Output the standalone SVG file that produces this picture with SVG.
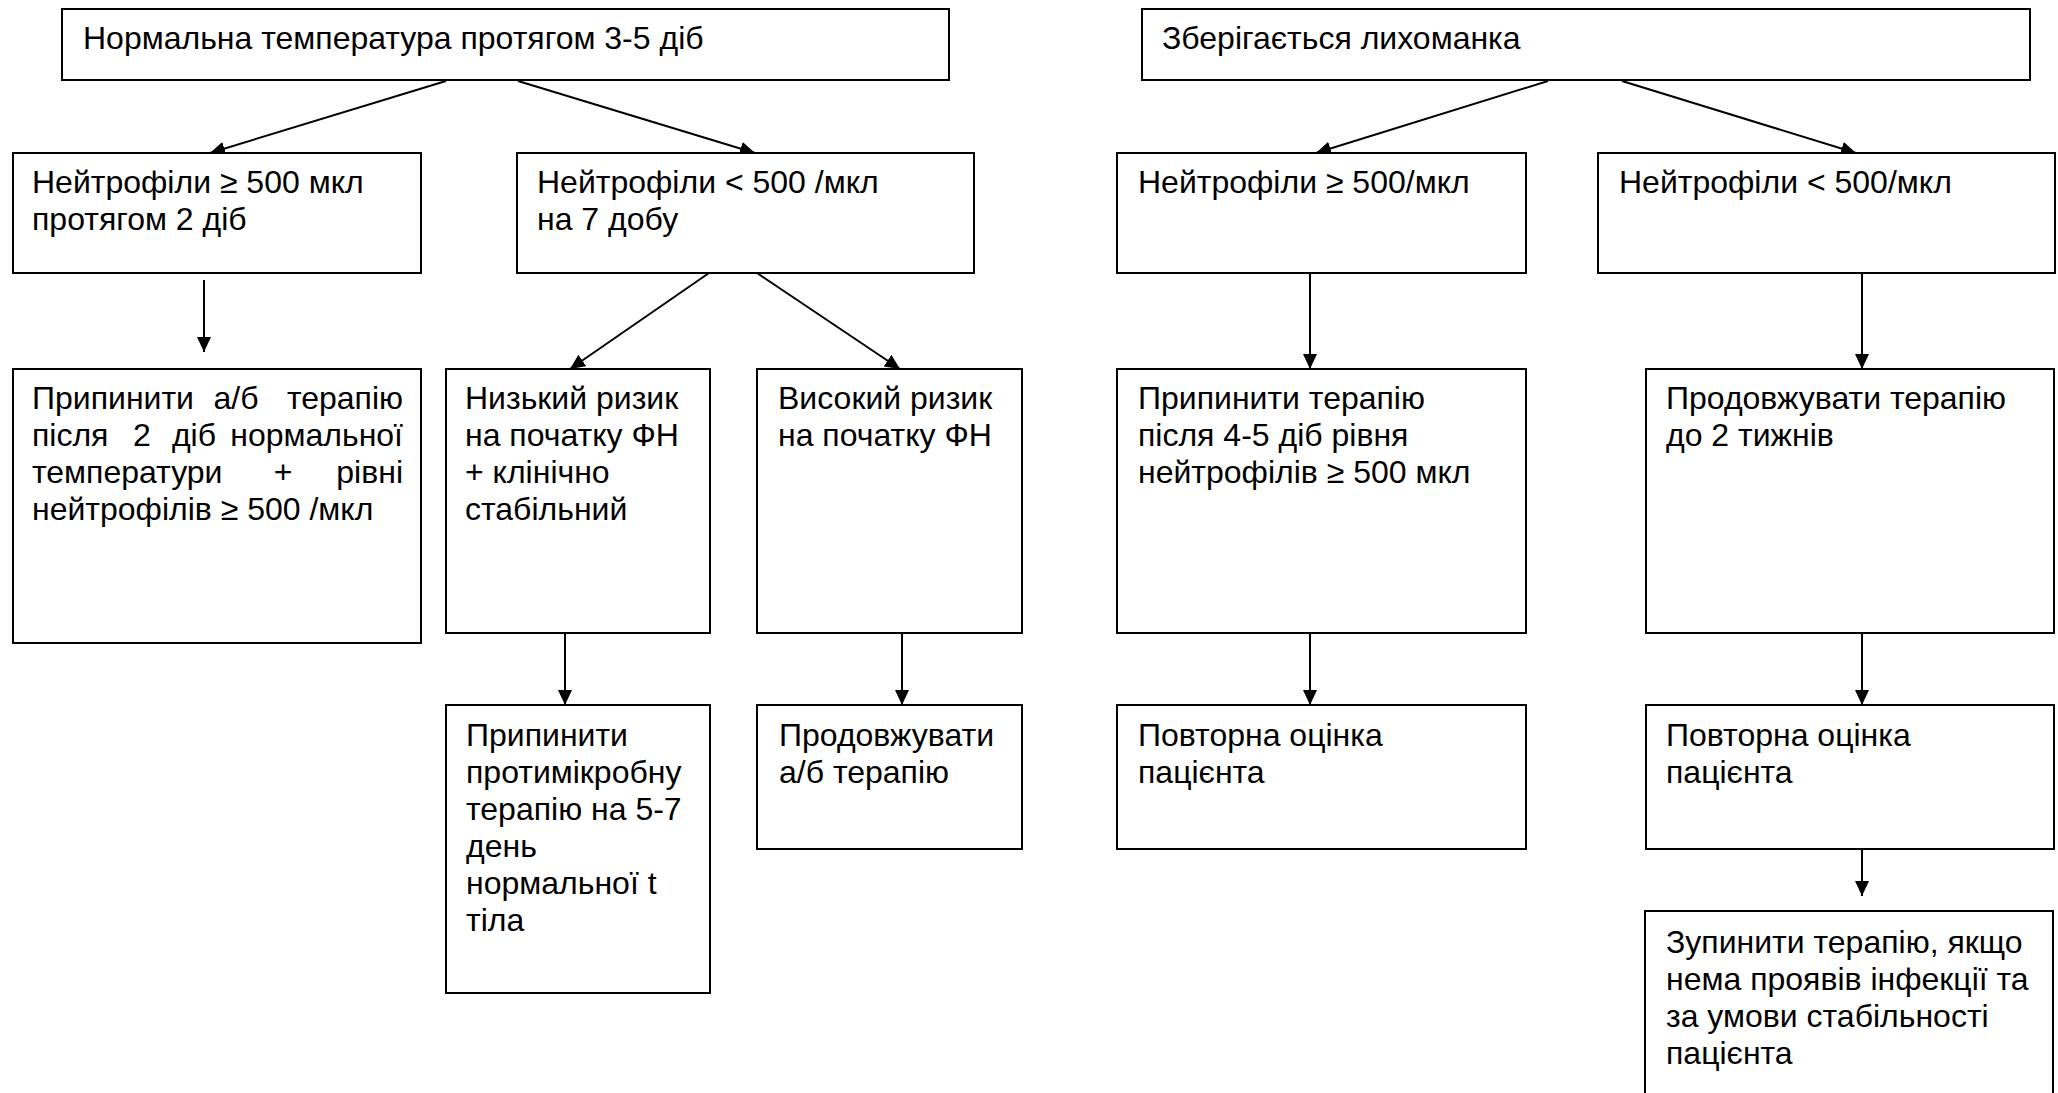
<svg xmlns="http://www.w3.org/2000/svg" width="2058" height="1093" viewBox="0 0 2058 1093">
<style>
.box{fill:#fff;stroke:#000;stroke-width:2}
.t{font-family:"Liberation Sans",Arial,sans-serif;font-size:32px;fill:#000}
.c{stroke:#000;stroke-width:2;fill:none;marker-end:url(#ah)}
</style>
<defs>
<marker id="ah" markerUnits="userSpaceOnUse" markerWidth="16" markerHeight="16" refX="15" refY="7" orient="auto">
<path d="M0,0 L15,7 L0,14 z" fill="#000"/>
</marker>
</defs>
<rect x="0" y="0" width="2058" height="1093" fill="#fff"/>
<g id="connectors">
<line class="c" x1="446" y1="81" x2="210" y2="153"/>
<line class="c" x1="518" y1="81" x2="755" y2="153"/>
<line class="c" x1="1548" y1="81" x2="1316" y2="153"/>
<line class="c" x1="1622" y1="81" x2="1856" y2="153"/>
<line class="c" x1="709" y1="273" x2="570" y2="369"/>
<line class="c" x1="757" y1="273" x2="900" y2="369"/>
<line class="c" x1="204" y1="280" x2="204" y2="352"/>
<line class="c" x1="565" y1="633" x2="565" y2="705"/>
<line class="c" x1="902" y1="633" x2="902" y2="705"/>
<line class="c" x1="1310" y1="273" x2="1310" y2="369"/>
<line class="c" x1="1862" y1="273" x2="1862" y2="369"/>
<line class="c" x1="1310" y1="633" x2="1310" y2="705"/>
<line class="c" x1="1862" y1="633" x2="1862" y2="705"/>
<line class="c" x1="1862" y1="849" x2="1862" y2="896"/>
</g>
<g id="n-t1"><rect class="box" x="62" y="9" width="887" height="71"/><text class="t" x="83" y="49">Нормальна температура протягом 3-5 діб</text></g>
<g id="n-t2"><rect class="box" x="1142" y="9" width="888" height="71"/><text class="t" x="1162" y="49">Зберігається лихоманка</text></g>
<g id="n-a"><rect class="box" x="13" y="153" width="408" height="120"/><text class="t" x="32" y="193">Нейтрофіли ≥ 500 мкл<tspan x="32" y="230">протягом 2 діб</tspan></text></g>
<g id="n-b"><rect class="box" x="517" y="153" width="457" height="120"/><text class="t" x="537" y="193">Нейтрофіли &lt; 500 /мкл<tspan x="537" y="230">на 7 добу</tspan></text></g>
<g id="n-c"><rect class="box" x="1117" y="153" width="409" height="120"/><text class="t" x="1138" y="193">Нейтрофіли ≥ 500/мкл</text></g>
<g id="n-d"><rect class="box" x="1598" y="153" width="457" height="120"/><text class="t" x="1619" y="193">Нейтрофіли &lt; 500/мкл</text></g>
<g id="n-e"><rect class="box" x="13" y="369" width="408" height="274"/>
<text class="t" x="32" y="409">Припинити</text><text class="t" x="236" y="409" text-anchor="middle">а/б</text><text class="t" x="403" y="409" text-anchor="end">терапію</text>
<text class="t" x="32" y="446">після</text><text class="t" x="142" y="446" text-anchor="middle">2</text><text class="t" x="194" y="446" text-anchor="middle">діб</text><text class="t" x="403" y="446" text-anchor="end">нормальної</text>
<text class="t" x="32" y="483">температури</text><text class="t" x="283" y="483" text-anchor="middle">+</text><text class="t" x="403" y="483" text-anchor="end">рівні</text>
<text class="t" x="32" y="520">нейтрофілів ≥ 500 /мкл</text></g>
<g id="n-f"><rect class="box" x="446" y="369" width="264" height="264"/><text class="t" x="465" y="409">Низький ризик<tspan x="465" y="446">на початку ФН</tspan><tspan x="465" y="483">+ клінічно</tspan><tspan x="465" y="520">стабільний</tspan></text></g>
<g id="n-g"><rect class="box" x="757" y="369" width="265" height="264"/><text class="t" x="778" y="409">Високий ризик<tspan x="778" y="446">на початку ФН</tspan></text></g>
<g id="n-h"><rect class="box" x="1117" y="369" width="409" height="264"/><text class="t" x="1138" y="409">Припинити терапію<tspan x="1138" y="446">після 4-5 діб рівня</tspan><tspan x="1138" y="483">нейтрофілів ≥ 500 мкл</tspan></text></g>
<g id="n-i"><rect class="box" x="1646" y="369" width="408" height="264"/><text class="t" x="1666" y="409">Продовжувати терапію<tspan x="1666" y="446">до 2 тижнів</tspan></text></g>
<g id="n-j"><rect class="box" x="446" y="705" width="264" height="288"/><text class="t" x="466" y="746">Припинити<tspan x="466" y="783">протимікробну</tspan><tspan x="466" y="820">терапію на 5-7</tspan><tspan x="466" y="857">день</tspan><tspan x="466" y="894">нормальної t</tspan><tspan x="466" y="931">тіла</tspan></text></g>
<g id="n-k"><rect class="box" x="757" y="705" width="265" height="144"/><text class="t" x="779" y="746">Продовжувати<tspan x="779" y="783">а/б терапію</tspan></text></g>
<g id="n-l"><rect class="box" x="1117" y="705" width="409" height="144"/><text class="t" x="1138" y="746">Повторна оцінка<tspan x="1138" y="783">пацієнта</tspan></text></g>
<g id="n-m"><rect class="box" x="1646" y="705" width="408" height="144"/><text class="t" x="1666" y="746">Повторна оцінка<tspan x="1666" y="783">пацієнта</tspan></text></g>
<g id="n-n"><rect class="box" x="1645" y="911" width="408" height="200"/><text class="t" x="1666" y="953">Зупинити терапію, якщо<tspan x="1666" y="990">нема проявів інфекції та</tspan><tspan x="1666" y="1027">за умови стабільності</tspan><tspan x="1666" y="1064">пацієнта</tspan></text></g>
</svg>
